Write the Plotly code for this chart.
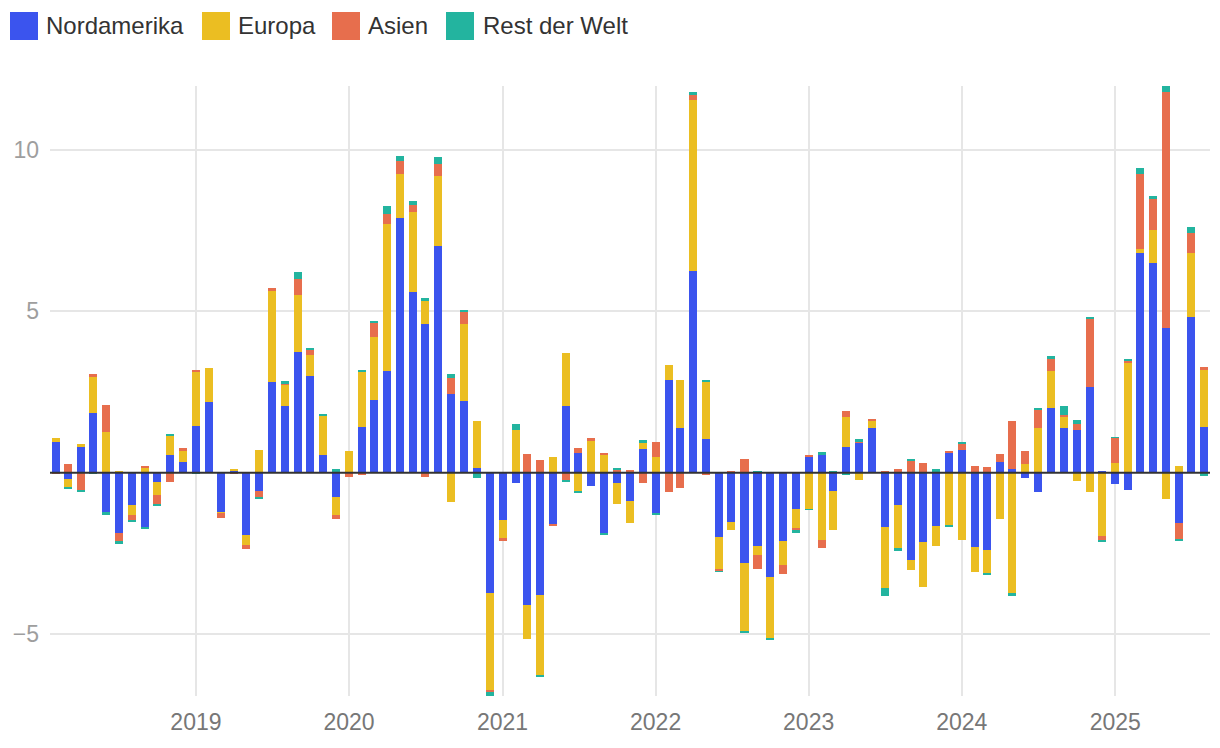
import pandas as pd
import plotly.graph_objects as go

# ---- data ----
start_month = "2018-02-01"
n_months = 91
months = pd.date_range(start_month, periods=n_months, freq="MS")

series_names = ["Nordamerika", "Europa", "Asien", "Rest der Welt"]
series_colors = ["#3b54ee", "#ebbe22", "#e76e4d", "#23b49f"]

nordamerika = [
    0.95, -0.19, 0.83, 1.85, -1.22, -1.87, -1.00, -1.68, -0.29, 0.55, 0.33,
    1.44, 2.19, -1.22, 0.08, -1.93, -0.57, 2.82, 2.06, 3.74, 2.99, 0.55, -0.75,
    0.00, 1.41, 2.25, 3.15, 7.88, 5.59, 4.60, 7.02, 2.44, 2.22, 0.14, -3.73,
    -1.47, -0.32, -4.10, -3.79, -1.59, 2.06, 0.61, -0.41, -1.87, -0.32, -0.88,
    0.74, -1.24, 2.88, 1.39, 6.26, 1.05, -1.99, -1.52, -2.80, -2.27, -3.21, -2.11, -1.12,
    0.52, 0.55, -0.57, 0.80, 0.95, 1.39, -1.69, -1.00, -2.71, -2.15, -1.63, 0.64,
    0.70, -2.31, -2.40, 0.33, 0.11, -0.17, -0.60, 2.01, 1.39, 1.33, 2.66, 0.06,
    -0.35, -0.54, 6.82, 6.51, 4.49, -1.56, 4.83, 1.42,
]
europa = [
    0.12, -0.26, 0.06, 1.11, 1.26, 0.05, -0.31, 0.18, -0.40, 0.62, 0.37,
    1.70, 1.05, -0.03, 0.03, -0.31, 0.70, 2.81, 0.68, 1.76, 0.65, 1.24, -0.56,
    0.67, 1.73, 1.95, 4.55, 1.39, 2.48, 0.71, 2.17, -0.91, 2.38, 1.46, -3.00,
    -0.56, 1.32, -1.05, -2.48, 0.49, 1.64, -0.57, 1.01, 0.58, -0.65, -0.68,
    0.21, 0.50, 0.47, 1.49, 5.28, 1.77, -0.99, -0.25, -2.11, -0.28, -1.91, -0.74, -0.60,
    -1.12, -2.09, -1.21, 0.93, -0.23, 0.22, -1.86, -1.34, -0.31, -1.37, -0.62, -1.63,
    -2.09, -0.75, -0.71, -1.44, -3.74, 0.27, 1.39, 1.15, 0.37, -0.26, -0.60, -1.97,
    0.30, 3.41, 0.12, 1.02, -0.82, 0.21, 1.99, 1.77,
]
asien = [
    -0.05, 0.27, -0.56, 0.09, 0.84, -0.25, -0.18, 0.03, -0.28, -0.29, 0.06,
    0.03, 0.00, -0.15, -0.05, -0.12, -0.18, 0.09, 0.03, 0.51, 0.15, 0.00, -0.12,
    -0.13, -0.06, 0.46, 0.31, 0.40, 0.22, -0.13, 0.37, 0.50, 0.40, 0.00, -0.06,
    -0.09, 0.00, 0.58, 0.39, -0.03, -0.23, 0.15, 0.06, 0.03, 0.11, 0.08,
    -0.32, 0.46, -0.60, -0.47, 0.17, -0.06, -0.06, 0.06, 0.43, -0.43, 0.00, -0.28, -0.08,
    0.03, -0.25, 0.00, 0.19, 0.03, 0.03, 0.05, 0.11, 0.39, 0.30, 0.05, 0.03,
    0.22, 0.21, 0.18, 0.25, 1.49, 0.40, 0.56, 0.38, 0.03, 0.19, 2.11, -0.12,
    0.78, 0.06, 2.33, 0.96, 7.30, -0.50, 0.62, 0.09,
]
rest_der_welt = [
    0.00, -0.03, -0.03, -0.05, -0.09, -0.09, -0.04, -0.03, -0.03, 0.03, 0.00,
    -0.05, 0.00, 0.00, 0.00, 0.00, -0.04, 0.00, 0.06, 0.21, 0.09, 0.03, 0.11,
    0.00, 0.03, 0.03, 0.25, 0.15, 0.12, 0.12, 0.22, 0.12, 0.03, -0.17, -0.12,
    0.00, 0.19, 0.00, -0.06, 0.00, -0.06, -0.03, 0.00, -0.03, 0.03, 0.00,
    0.06, -0.07, 0.00, 0.00, 0.08, 0.03, -0.03, 0.00, -0.03, 0.06, -0.03, 0.00, -0.05,
    -0.03, 0.09, 0.05, -0.06, 0.06, 0.00, -0.25, -0.09, 0.03, 0.00, 0.06, -0.03,
    0.03, 0.00, -0.03, 0.00, -0.06, 0.00, 0.03, 0.08, 0.28, 0.12, 0.06, -0.06,
    0.03, 0.06, 0.16, 0.09, 0.19, -0.03, 0.16, -0.10,
]

y_tickvals = [-5, 5, 10]
y_ticktext = ["\u22125", "5", "10"]

series_values = [nordamerika, europa, asien, rest_der_welt]

# ---- figure ----
FONT = "Liberation Sans, Arial, Helvetica, sans-serif"
bar_width_ms = 19.1 * 86400000

fig = go.Figure()
for name, color, vals in zip(series_names, series_colors, series_values):
    fig.add_trace(go.Bar(
        x=months, y=vals, name=name,
        marker=dict(color=color, line=dict(width=0)),
        width=[bar_width_ms] * len(vals),
        showlegend=False,
    ))

pos_sum = [sum(v for v in col if v > 0) for col in zip(*series_values)]
neg_sum = [sum(v for v in col if v < 0) for col in zip(*series_values)]
y_range = [min(neg_sum), max(pos_sum)]

x_pad = pd.Timedelta(days=14)

W, H = 1220, 748
PLOT_L, PLOT_R, PLOT_T, PLOT_B = 50, 1210, 86, 696   # plot area in page pixels
ML, MT, MR, MB = PLOT_L, PLOT_T, W - PLOT_R, H - PLOT_B
pw, ph = PLOT_R - PLOT_L, PLOT_B - PLOT_T


def px_x(px):
    return (px - PLOT_L) / pw


def px_y(py):
    return (PLOT_B - py) / ph


# manual legend (large square swatches)
legend_sq_x = [10, 202, 332, 446]
legend_txt_x = [44, 236, 366, 481]
shapes = []
annotations = []
for i, (name, color) in enumerate(zip(series_names, series_colors)):
    shapes.append(dict(
        type="rect", xref="paper", yref="paper",
        x0=px_x(legend_sq_x[i]), x1=px_x(legend_sq_x[i] + 28),
        y0=px_y(40), y1=px_y(12),
        fillcolor=color, line=dict(width=0), layer="above",
    ))
    annotations.append(dict(
        text=name, xref="paper", yref="paper",
        x=px_x(legend_txt_x[i]), y=px_y(26),
        xanchor="left", yanchor="middle", showarrow=False,
        font=dict(family=FONT, size=24, color="#333333"),
    ))

shapes.append(dict(
    type="line", xref="paper", yref="y", x0=0, x1=1, y0=0, y1=0,
    line=dict(color="#333333", width=2), layer="above",
))

fig.update_layout(
    width=W, height=H,
    margin=dict(l=ML, r=MR, t=MT, b=MB, pad=0),
    barmode="relative",
    bargap=0,
    plot_bgcolor="white",
    paper_bgcolor="white",
    font=dict(family=FONT),
    shapes=shapes,
    annotations=annotations,
    showlegend=False,
)
fig.update_xaxes(
    type="date",
    range=[months[0] - x_pad, months[-1] + x_pad],
    dtick="M12", tick0="2019-01-01", tickformat="%Y",
    showgrid=True, gridcolor="#e6e6e6", gridwidth=2,
    zeroline=False, showline=False, ticks="",
    tickfont=dict(family=FONT, size=23, color="#777777"),
    ticklabelstandoff=10,
)
fig.update_yaxes(
    range=y_range,
    tickvals=y_tickvals, ticktext=y_ticktext,
    showgrid=True, gridcolor="#e6e6e6", gridwidth=2,
    zeroline=False, showline=False, ticks="",
    tickfont=dict(family=FONT, size=23, color="#9e9e9e"),
    ticklabelstandoff=10,
)

# place the figure at the page origin (remove default body margin)
fig.write_html(
    "out.html",
    config={"displayModeBar": False},
    post_script="document.body.style.margin='0';document.body.style.overflow='hidden';",
)
